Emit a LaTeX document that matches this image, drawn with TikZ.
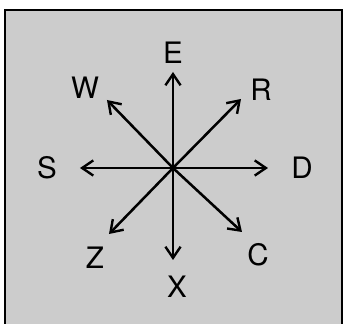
\documentclass[tikz,border=0pt]{standalone}
\usepackage{fontspec}
\setmainfont{TeX Gyre Heros}
\usetikzlibrary{calc, arrows.meta}

\begin{document}
\begin{tikzpicture}[
    x=0.025cm, y=0.025cm,
    panel/.style={
        fill=black!20,
        draw=black,
        line width=2pt
    },
    spoke/.style={
        -{Straight Barb[length=2.8mm, width=3.8mm, line width=1.7pt]},
        line width=1.8pt
    },
    keylabel/.style={
        font=\fontsize{21}{24}\selectfont,
        inner sep=0pt
    }
]

% Frame (bottom edge lies below the picture)
\useasboundingbox (0,0) rectangle (344,324);
\clip (0,0) rectangle (344,324);
\draw[panel] (5,-20) rectangle (342,314);

% Hub
\coordinate (hub) at (173,156);

% Spokes: key / tip / label position
\foreach \key/\tx/\ty/\lx/\ly in {
    E/173/252/173/271,
    R/241/225/261/234,
    D/268/156/302/156,
    C/242/92/258/69,
    X/173/64/177/37,
    Z/109/90/95/66,
    S/80/156/47/156,
    W/107/224/85/236}{
  \coordinate (tip\key) at (\tx,\ty);
  \node[keylabel] (lab\key) at (\lx,\ly) {\key};
  \draw[spoke] (hub) -- (tip\key);
}

\end{tikzpicture}
\end{document}
